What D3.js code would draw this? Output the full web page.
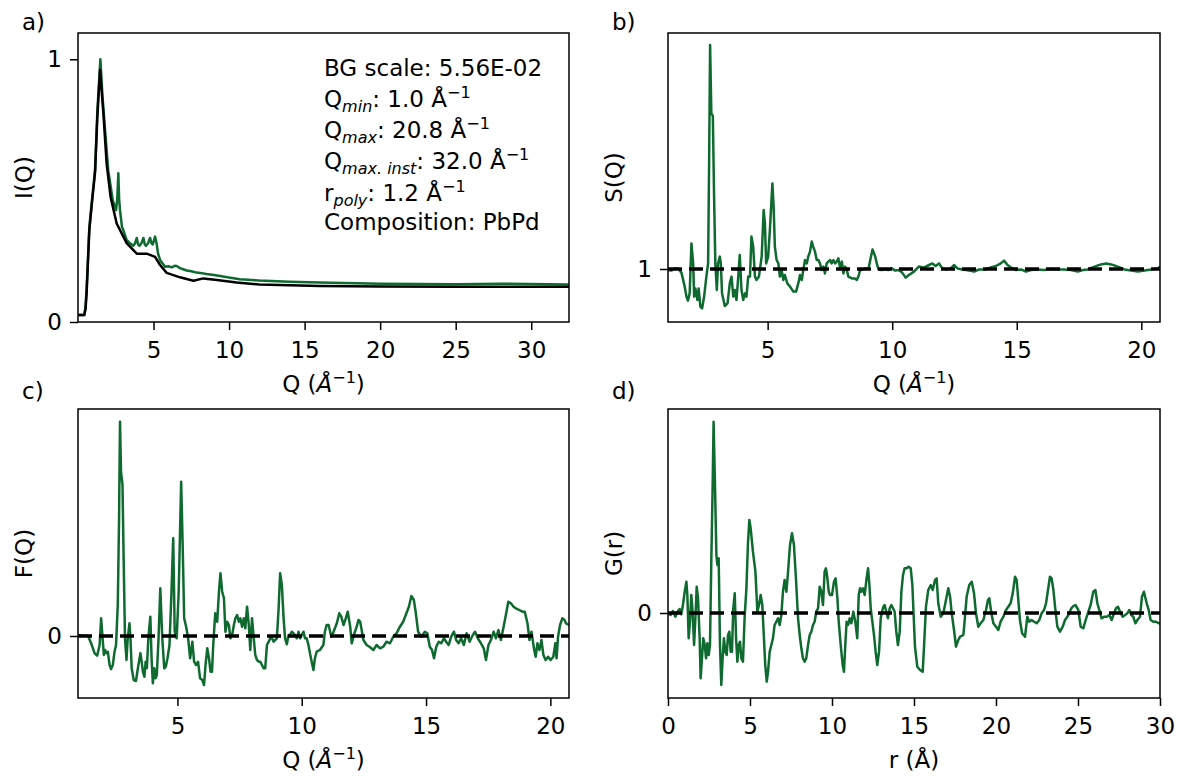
<!DOCTYPE html>
<html lang="en">
<head>
    <meta charset="UTF-8">
    <title>PDF workflow panels</title>
    <script src="https://d3js.org/d3.v7.min.js"></script>
    <style>
        body { margin: 0; background: #fff; }
        text { font-family: "DejaVu Sans", sans-serif; fill: #000; }
    </style>
</head>
<body>
    <div id="chart"></div>

    <script>
        // ---- data ----
        // a) raw intensity (green) and background (black)
        const iqData = [[0.0,0.027],[0.42,0.027],[0.5,0.06],[0.57,0.125],[0.75,0.36],[0.9,0.45],[1.13,0.58],[1.28,0.8],[1.48,1.0],[1.62,0.86],[1.79,0.73],[2.0,0.578],[2.3,0.464],[2.52,0.426],[2.6,0.47],[2.67,0.566],[2.72,0.47],[2.78,0.426],[2.91,0.362],[3.0,0.35],[3.22,0.312],[3.44,0.30],[3.66,0.29],[3.78,0.30],[3.89,0.32],[3.98,0.295],[4.07,0.29],[4.2,0.3],[4.33,0.32],[4.42,0.295],[4.5,0.29],[4.64,0.3],[4.77,0.32],[4.86,0.3],[4.95,0.295],[5.1,0.325],[5.2,0.30],[5.3,0.26],[5.43,0.236],[5.76,0.21],[6.0,0.212],[6.2,0.208],[6.4,0.214],[6.53,0.213],[6.75,0.205],[7.0,0.2],[7.2,0.196],[7.5,0.193],[7.85,0.188],[8.2,0.186],[8.5,0.183],[9.0,0.179],[9.4,0.175],[10.0,0.169],[10.7,0.163],[12,0.158],[14,0.153],[16,0.15],[20,0.146],[25,0.144],[28,0.146],[32.5,0.143]];
        const iqBackground = [[0.0,0.027],[0.42,0.027],[0.5,0.05],[0.57,0.11],[0.75,0.35],[0.9,0.44],[1.13,0.57],[1.28,0.78],[1.46,0.96],[1.68,0.795],[1.9,0.60],[2.16,0.475],[2.56,0.375],[3.22,0.30],[3.89,0.26],[4.55,0.26],[5.1,0.248],[5.43,0.217],[5.87,0.187],[6.75,0.17],[7.64,0.157],[8.3,0.166],[9.19,0.16],[10.5,0.15],[12,0.143],[14,0.14],[16,0.137],[20,0.135],[25,0.134],[32.5,0.134]];

        // b) S(Q)
        const sqData = [[1.00,0.995],[1.13,0.992],[1.27,1.003],[1.40,1.003],[1.54,0.982],[1.67,0.912],[1.74,0.862],[1.80,0.842],[1.87,0.878],[1.94,1.128],[2.01,1.028],[2.05,0.862],[2.10,0.903],[2.18,0.845],[2.23,0.903],[2.30,0.812],[2.37,0.803],[2.45,0.862],[2.54,0.962],[2.61,1.028],[2.65,1.528],[2.69,2.12],[2.74,1.778],[2.80,1.765],[2.85,1.362],[2.90,1.028],[2.96,0.895],[3.01,1.028],[3.08,1.062],[3.12,1.028],[3.17,0.878],[3.28,0.815],[3.39,0.828],[3.48,0.928],[3.55,0.962],[3.62,0.862],[3.68,0.895],[3.75,0.845],[3.82,0.962],[3.88,1.07],[3.95,0.895],[4.02,0.845],[4.09,0.878],[4.15,0.862],[4.22,0.962],[4.29,0.962],[4.35,1.162],[4.42,1.112],[4.49,0.962],[4.55,0.945],[4.65,0.962],[4.76,1.062],[4.84,1.295],[4.89,1.228],[4.94,1.028],[5.02,1.062],[5.09,1.195],[5.19,1.428],[5.24,1.312],[5.29,1.112],[5.36,1.045],[5.43,1.028],[5.49,0.962],[5.56,0.995],[5.63,0.945],[5.69,0.97],[5.79,0.928],[5.90,0.912],[6.03,0.887],[6.14,0.887],[6.23,0.928],[6.30,0.97],[6.37,0.945],[6.43,0.995],[6.50,1.045],[6.57,1.028],[6.63,1.062],[6.70,1.087],[6.77,1.137],[6.83,1.112],[6.90,1.087],[6.97,1.045],[7.04,1.045],[7.10,1.028],[7.17,0.995],[7.24,1.012],[7.30,0.978],[7.37,1.028],[7.44,1.037],[7.51,1.045],[7.57,1.028],[7.64,1.045],[7.71,1.028],[7.77,1.037],[7.84,1.053],[7.91,1.003],[7.98,1.037],[8.04,0.978],[8.11,1.012],[8.18,0.995],[8.24,0.962],[8.38,0.953],[8.51,0.953],[8.58,0.945],[8.65,0.965],[8.71,0.995],[8.78,0.995],[8.91,1.003],[9.05,1.003],[9.12,1.045],[9.21,1.098],[9.32,1.062],[9.38,1.028],[9.45,0.998],[9.58,0.995],[9.72,0.998],[9.85,0.995],[9.99,1.003],[10.12,0.992],[10.26,0.995],[10.40,0.982],[10.54,0.957],[10.67,0.97],[10.87,0.987],[11.07,1.012],[11.28,1.008],[11.48,1.02],[11.61,1.028],[11.74,1.015],[11.88,1.028],[12.01,1.003],[12.15,0.998],[12.35,1.003],[12.48,1.02],[12.62,1.003],[12.82,0.998],[13.09,0.992],[13.29,0.987],[13.49,0.998],[13.76,0.998],[13.96,1.008],[14.16,1.015],[14.36,1.028],[14.49,1.042],[14.63,1.02],[14.76,1.008],[14.96,0.995],[15.17,0.998],[15.37,0.987],[15.57,0.995],[15.84,0.998],[16.10,0.995],[16.37,1.0],[16.64,0.997],[16.91,0.998],[17.18,0.995],[17.45,0.987],[17.65,0.995],[17.85,0.998],[18.12,1.012],[18.38,1.023],[18.59,1.028],[18.79,1.023],[19.06,1.012],[19.32,0.998],[19.59,0.992],[19.86,0.987],[20.13,0.992],[20.39,0.998],[20.67,1.003],[20.75,1.012]];

        // c) F(Q)
        const fqData = [[1.00,0.01],[1.20,0.003],[1.40,0.003],[1.53,-0.073],[1.67,-0.173],[1.77,-0.197],[1.87,-0.09],[1.93,0.177],[1.99,-0.023],[2.04,-0.19],[2.09,-0.14],[2.15,-0.173],[2.20,-0.157],[2.27,-0.29],[2.33,-0.33],[2.40,-0.29],[2.47,-0.157],[2.53,-0.09],[2.60,0.31],[2.65,1.143],[2.69,2.143],[2.73,1.643],[2.79,1.51],[2.84,0.71],[2.89,-0.023],[2.95,-0.24],[3.00,-0.023],[3.07,0.127],[3.11,-0.023],[3.16,-0.323],[3.24,-0.44],[3.33,-0.45],[3.43,-0.29],[3.51,-0.173],[3.56,-0.257],[3.61,-0.357],[3.67,-0.407],[3.72,-0.257],[3.77,-0.323],[3.83,-0.023],[3.91,0.193],[3.96,-0.223],[4.01,-0.473],[4.07,-0.323],[4.12,-0.423],[4.17,-0.39],[4.24,-0.023],[4.31,0.477],[4.39,-0.023],[4.47,-0.323],[4.53,-0.307],[4.60,-0.223],[4.68,-0.09],[4.76,0.443],[4.83,0.977],[4.89,0.043],[4.97,-0.023],[5.05,0.443],[5.15,1.543],[5.21,0.91],[5.27,0.177],[5.35,0.093],[5.43,-0.023],[5.51,-0.223],[5.60,-0.057],[5.67,-0.257],[5.75,-0.29],[5.83,-0.257],[5.91,-0.423],[6.00,-0.44],[6.07,-0.49],[6.13,-0.29],[6.20,-0.123],[6.27,-0.223],[6.33,-0.357],[6.39,-0.357],[6.44,-0.09],[6.52,0.227],[6.60,0.143],[6.67,0.443],[6.73,0.627],[6.80,0.443],[6.87,0.377],[6.93,0.043],[7.00,0.143],[7.07,0.11],[7.13,-0.023],[7.20,0.01],[7.27,0.11],[7.33,0.177],[7.40,0.21],[7.47,0.143],[7.53,0.177],[7.60,0.093],[7.67,0.177],[7.73,0.077],[7.80,0.293],[7.87,0.11],[7.93,-0.14],[8.00,0.177],[8.07,-0.023],[8.13,-0.19],[8.20,-0.24],[8.27,-0.257],[8.33,-0.257],[8.40,-0.29],[8.47,-0.323],[8.53,-0.323],[8.60,-0.09],[8.67,-0.057],[8.73,-0.023],[8.80,-0.023],[8.87,-0.057],[8.93,-0.04],[9.00,-0.023],[9.07,0.277],[9.13,0.627],[9.20,0.51],[9.27,0.177],[9.33,-0.023],[9.40,-0.083],[9.47,0.01],[9.53,0.01],[9.60,0.043],[9.67,0.027],[9.73,0.01],[9.80,-0.023],[9.87,0.043],[9.93,-0.023],[10.00,0.01],[10.07,0.043],[10.13,-0.023],[10.20,-0.023],[10.27,-0.09],[10.33,-0.173],[10.40,-0.257],[10.47,-0.34],[10.53,-0.223],[10.60,-0.157],[10.73,-0.14],[10.87,-0.09],[10.93,0.043],[11.00,0.11],[11.08,0.11],[11.19,-0.007],[11.28,0.043],[11.41,0.127],[11.51,0.227],[11.59,0.193],[11.68,0.11],[11.77,0.177],[11.85,0.243],[11.95,0.093],[12.01,-0.073],[12.12,0.027],[12.21,0.093],[12.28,0.16],[12.35,0.143],[12.41,0.06],[12.48,-0.04],[12.61,-0.09],[12.75,-0.113],[12.88,-0.14],[13.01,-0.09],[13.15,-0.123],[13.28,-0.107],[13.41,-0.057],[13.55,-0.073],[13.68,-0.007],[13.81,0.027],[13.95,0.093],[14.08,0.143],[14.21,0.227],[14.31,0.293],[14.41,0.4],[14.51,0.36],[14.59,0.227],[14.68,0.043],[14.81,-0.007],[14.95,0.043],[15.05,0.027],[15.15,-0.107],[15.24,-0.14],[15.32,-0.223],[15.41,-0.107],[15.51,-0.057],[15.61,-0.073],[15.72,-0.023],[15.81,-0.057],[15.91,-0.09],[16.01,-0.007],[16.12,0.043],[16.21,-0.04],[16.31,-0.073],[16.41,-0.023],[16.52,-0.09],[16.63,0.027],[16.75,-0.057],[16.88,0.01],[16.97,0.043],[17.08,-0.023],[17.21,-0.073],[17.32,-0.123],[17.41,-0.24],[17.51,-0.09],[17.61,-0.04],[17.72,0.043],[17.81,-0.023],[17.91,0.06],[18.01,-0.04],[18.12,0.093],[18.21,0.21],[18.31,0.343],[18.41,0.327],[18.52,0.293],[18.61,0.277],[18.75,0.26],[18.88,0.243],[18.97,0.243],[19.08,0.127],[19.16,-0.04],[19.24,0.043],[19.35,-0.14],[19.41,-0.207],[19.48,-0.073],[19.56,-0.14],[19.64,-0.04],[19.72,-0.19],[19.81,-0.24],[19.91,-0.207],[20.01,-0.24],[20.12,-0.207],[20.20,-0.073],[20.25,-0.223],[20.31,-0.007],[20.39,0.11],[20.48,0.177],[20.57,0.16],[20.63,0.127],[20.75,0.11]];

        // d) G(r)
        const grData = [[0,-0.003],[0.16,-0.02],[0.30,0.02],[0.45,-0.037],[0.57,0.013],[0.71,0.04],[0.81,-0.013],[0.91,0.08],[1.02,0.213],[1.12,0.313],[1.18,0.18],[1.26,-0.253],[1.34,-0.087],[1.42,0.18],[1.50,0.013],[1.59,-0.32],[1.67,-0.053],[1.75,0.263],[1.83,0.147],[1.93,-0.253],[1.99,-0.653],[2.07,-0.453],[2.15,-0.253],[2.24,-0.32],[2.32,-0.453],[2.40,-0.303],[2.48,-0.42],[2.56,-0.32],[2.64,0.513],[2.72,1.247],[2.78,1.913],[2.87,1.247],[2.95,0.58],[3.01,0.48],[3.09,0.547],[3.17,-0.32],[3.25,-0.72],[3.33,-0.453],[3.41,-0.253],[3.50,-0.387],[3.58,-0.42],[3.66,-0.22],[3.74,-0.187],[3.82,-0.387],[3.90,-0.387],[3.98,0.047],[4.07,0.197],[4.15,-0.253],[4.23,-0.487],[4.31,-0.32],[4.39,-0.287],[4.47,-0.453],[4.57,-0.487],[4.67,-0.053],[4.78,0.247],[4.88,0.713],[4.96,0.93],[5.04,0.847],[5.18,0.613],[5.33,0.413],[5.45,0.013],[5.55,0.08],[5.65,0.18],[5.75,0.08],[5.85,-0.253],[5.93,-0.52],[6.02,-0.687],[6.10,-0.587],[6.20,-0.387],[6.30,-0.32],[6.40,-0.253],[6.50,-0.12],[6.61,-0.087],[6.71,-0.053],[6.81,-0.12],[6.91,-0.02],[7.01,0.213],[7.11,0.33],[7.22,0.213],[7.32,0.413],[7.44,0.68],[7.56,0.797],[7.68,0.68],[7.80,0.347],[7.93,-0.053],[8.03,-0.22],[8.13,-0.353],[8.23,-0.453],[8.33,-0.487],[8.43,-0.453],[8.54,-0.32],[8.64,-0.22],[8.74,-0.187],[8.84,-0.12],[8.94,-0.087],[9.04,0.013],[9.15,0.047],[9.25,0.263],[9.35,0.213],[9.45,0.08],[9.55,0.413],[9.63,0.447],[9.72,0.347],[9.80,0.213],[9.88,0.18],[10.00,0.18],[10.12,0.313],[10.22,0.347],[10.33,0.147],[10.41,-0.087],[10.53,-0.32],[10.65,-0.52],[10.73,-0.587],[10.81,-0.32],[10.89,-0.087],[10.98,-0.12],[11.08,-0.053],[11.18,-0.103],[11.30,0.013],[11.42,-0.087],[11.54,-0.253],[11.63,0.18],[11.71,0.247],[11.79,0.213],[11.89,0.247],[11.99,0.18],[12.11,0.347],[12.20,0.447],[12.28,0.28],[12.36,0.047],[12.46,-0.087],[12.56,-0.22],[12.66,-0.387],[12.76,-0.52],[12.87,-0.387],[12.97,-0.053],[13.05,0.013],[13.13,0.063],[13.21,0.08],[13.31,0.013],[13.41,-0.053],[13.52,0.047],[13.62,0.08],[13.72,0.047],[13.82,0.013],[13.92,-0.187],[14.02,-0.32],[14.13,-0.187],[14.23,0.213],[14.33,0.38],[14.43,0.447],[14.55,0.447],[14.67,0.463],[14.80,0.447],[14.90,0.28],[15.06,-0.337],[15.20,-0.537],[15.37,-0.57],[15.53,-0.587],[15.61,-0.337],[15.73,0.063],[15.87,0.23],[16.02,0.28],[16.14,0.23],[16.28,0.33],[16.38,0.347],[16.48,0.097],[16.63,-0.037],[16.79,-0.003],[16.95,0.13],[17.09,0.247],[17.20,0.163],[17.30,-0.003],[17.44,-0.17],[17.56,-0.337],[17.70,-0.27],[17.81,-0.237],[18.01,-0.22],[18.11,-0.037],[18.21,0.163],[18.37,0.28],[18.52,0.313],[18.66,0.197],[18.78,-0.003],[18.92,-0.137],[19.06,-0.103],[19.23,-0.07],[19.39,0.03],[19.51,0.13],[19.59,0.147],[19.72,-0.003],[19.84,-0.103],[20.00,-0.137],[20.14,-0.17],[20.28,-0.087],[20.45,-0.037],[20.61,0.03],[20.75,0.063],[20.89,0.097],[21.02,0.197],[21.16,0.363],[21.26,0.33],[21.36,0.13],[21.46,-0.07],[21.59,-0.203],[21.77,-0.237],[21.91,-0.037],[22.03,-0.087],[22.17,-0.07],[22.32,-0.087],[22.48,-0.103],[22.64,-0.07],[22.78,-0.003],[22.93,0.03],[23.05,0.097],[23.17,0.23],[23.29,0.363],[23.39,0.347],[23.50,0.23],[23.60,0.063],[23.74,-0.137],[23.90,-0.187],[24.07,-0.137],[24.21,-0.07],[24.35,-0.037],[24.47,-0.003],[24.59,0.047],[24.72,0.07],[24.84,0.08],[25.02,0.03],[25.16,-0.137],[25.32,-0.153],[25.47,-0.07],[25.63,0.013],[25.77,0.08],[25.93,0.213],[26.06,0.23],[26.18,0.097],[26.30,0.03],[26.44,-0.053],[26.61,-0.037],[26.75,-0.037],[26.91,-0.02],[27.05,-0.07],[27.20,-0.003],[27.32,0.047],[27.44,0.063],[27.56,0.013],[27.72,-0.037],[27.87,-0.02],[28.01,-0.003],[28.13,0.03],[28.25,-0.02],[28.37,-0.037],[28.50,-0.103],[28.62,-0.07],[28.78,-0.037],[28.90,0.163],[29.02,0.213],[29.19,0.097],[29.31,0.03],[29.43,-0.07],[29.59,-0.087],[29.76,-0.087],[29.92,-0.103],[30.0,-0.1]];

        // axis ranges and ticks
        const iqDomainX = [0, 32.5], iqDomainY = [0, 1.1];
        const iqTicksX = [5, 10, 15, 20, 25, 30], iqTicksY = [0, 1];
        const sqDomainX = [1.0, 20.75], sqDomainY = [0.735, 2.18];
        const qTicks = [5, 10, 15, 20], sqTicksY = [1];
        const fqDomainY = [-0.62, 2.27], fqTicksY = [0];
        const grDomainX = [0, 30], grDomainY = [-0.85, 2.04];
        const grTicksX = [0, 5, 10, 15, 20, 25, 30], grTicksY = [0];

        const infoLines = [
            [{t: "BG scale: 5.56E-02"}],
            [{t: "Q"}, {t: "min", sub: true}, {t: ": 1.0 Å"}, {t: "−1", sup: true}],
            [{t: "Q"}, {t: "max", sub: true}, {t: ": 20.8 Å"}, {t: "−1", sup: true}],
            [{t: "Q"}, {t: "max. inst", sub: true}, {t: ": 32.0 Å"}, {t: "−1", sup: true}],
            [{t: "r"}, {t: "poly", sub: true}, {t: ": 1.2 Å"}, {t: "−1", sup: true}],
            [{t: "Composition: PbPd"}]
        ];
        const qLabel = [{t: "Q ("}, {t: "Å", it: true}, {t: "−1", sup: true}, {t: ")"}];

        const green = "#0f6a30";
        const W = 1178, H = 776, FS = 23;

        const svg = d3.select("#chart").append("svg")
            .attr("width", W).attr("height", H);

        // writes text with sub/superscripts as tspans
        function rich(sel, parts) {
            let shift = 0;
            parts.forEach(p => {
                const target = p.sub ? 5 : p.sup ? -9 : 0;
                const ts = sel.append("tspan").text(p.t).attr("dy", target - shift);
                if (p.sub || p.sup) ts.style("font-size", "16px");
                if (p.sub || p.it) ts.style("font-style", "italic");
                shift = target;
            });
        }

        function panel(o) {
            const {left, right, top, bottom} = o.box;
            const x = d3.scaleLinear().domain(o.xDomain).range([left, right]);
            const y = d3.scaleLinear().domain(o.yDomain).range([bottom, top]);
            const g = svg.append("g");

            g.append("clipPath").attr("id", "clip-" + o.id)
                .append("rect").attr("x", left).attr("y", top)
                .attr("width", right - left).attr("height", bottom - top);
            const plot = g.append("g").attr("clip-path", `url(#clip-${o.id})`);

            const line = d3.line().x(d => x(d[0])).y(d => y(d[1]));
            o.series.forEach(s => {
                plot.append("path").datum(s.data)
                    .attr("d", line)
                    .attr("fill", "none")
                    .attr("stroke", s.color)
                    .attr("stroke-width", s.width)
                    .attr("stroke-linejoin", "round");
            });
            if (o.refLine !== undefined) {
                plot.append("line")
                    .attr("x1", left).attr("x2", right)
                    .attr("y1", y(o.refLine)).attr("y2", y(o.refLine))
                    .attr("stroke", "#000").attr("stroke-width", 3.5)
                    .attr("stroke-dasharray", "14,7");
            }

            // axes
            const xa = g.append("g").attr("transform", `translate(0,${bottom})`)
                .call(d3.axisBottom(x).tickValues(o.xTicks).tickSize(8).tickFormat(d3.format("d")));
            xa.selectAll("text").attr("dy", null).attr("y", 36);
            const ya = g.append("g").attr("transform", `translate(${left},0)`)
                .call(d3.axisLeft(y).tickValues(o.yTicks).tickSize(8).tickPadding(8).tickFormat(d3.format("d")));
            [xa, ya].forEach(a => {
                a.select(".domain").remove();
                a.selectAll("line").attr("stroke", "#000").attr("stroke-width", 1.5);
                a.selectAll("text").style("font-size", FS + "px").attr("font-family", null).attr("fill", "#000");
            });

            g.append("rect").attr("x", left).attr("y", top)
                .attr("width", right - left).attr("height", bottom - top)
                .attr("fill", "none").attr("stroke", "#000").attr("stroke-width", 1.5);

            // labels
            const xl = g.append("text").attr("x", (left + right) / 2).attr("y", bottom + 70)
                .attr("text-anchor", "middle").style("font-size", FS + "px");
            rich(xl, o.xLabel);
            g.append("text")
                .attr("transform", `translate(${left - 46},${(top + bottom) / 2}) rotate(-90)`)
                .attr("text-anchor", "middle").style("font-size", FS + "px")
                .text(o.yLabel);
            g.append("text").attr("x", left - 56).attr("y", o.tagY)
                .style("font-size", FS + "px").text(o.tag);
            return {x, y, g};
        }

        const pa = panel({
            id: "a", tag: "a)", tagY: 30, box: {left: 78, right: 569, top: 33, bottom: 322},
            xDomain: iqDomainX, yDomain: iqDomainY, xTicks: iqTicksX, yTicks: iqTicksY,
            series: [{data: iqData, color: green, width: 2.5}, {data: iqBackground, color: "#000", width: 2.5}],
            xLabel: qLabel, yLabel: "I(Q)"
        });

        // parameter box in panel a
        const info = pa.g.append("g");
        const baselines = [76, 107, 138, 169, 201, 230];
        infoLines.forEach((parts, i) => {
            const t = info.append("text").attr("x", 324).attr("y", baselines[i]).style("font-size", FS + "px");
            rich(t, parts);
        });

        panel({
            id: "b", tag: "b)", tagY: 30, box: {left: 668, right: 1160, top: 33, bottom: 322},
            xDomain: sqDomainX, yDomain: sqDomainY, xTicks: qTicks, yTicks: sqTicksY,
            series: [{data: sqData, color: green, width: 2.5}], refLine: 1,
            xLabel: qLabel, yLabel: "S(Q)"
        });

        panel({
            id: "c", tag: "c)", tagY: 399, box: {left: 78, right: 569, top: 409, bottom: 698},
            xDomain: sqDomainX, yDomain: fqDomainY, xTicks: qTicks, yTicks: fqTicksY,
            series: [{data: fqData, color: green, width: 2.5}], refLine: 0,
            xLabel: qLabel, yLabel: "F(Q)"
        });

        panel({
            id: "d", tag: "d)", tagY: 399, box: {left: 668, right: 1160, top: 409, bottom: 698},
            xDomain: grDomainX, yDomain: grDomainY, xTicks: grTicksX, yTicks: grTicksY,
            series: [{data: grData, color: green, width: 2.5}], refLine: 0,
            xLabel: [{t: "r (Å)"}], yLabel: "G(r)"
        });
    </script>
</body>
</html>
